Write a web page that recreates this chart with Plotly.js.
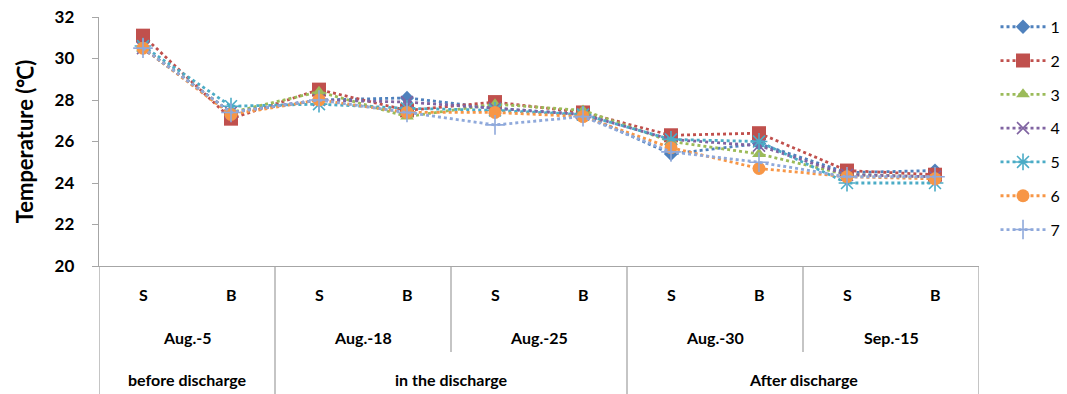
<!DOCTYPE html>
<html>
<head>
<meta charset="utf-8">
<script src="https://cdn.plot.ly/plotly-3.0.1.min.js"></script>
<style>
  html, body { margin: 0; padding: 0; background: #fff; }
  #chart { width: 1067px; height: 394px; }
</style>
</head>
<body>
<div id="chart"></div>
<script>
// Sampling layers (S = surface, B = bottom) for each survey date
const layers = ["S", "B", "S", "B", "S", "B", "S", "B", "S", "B"];
const dates = ["Aug.-5", "Aug.-18", "Aug.-25", "Aug.-30", "Sep.-15"];
const periods = ["before discharge", "in the discharge", "After discharge"];
// number of dates that belong to each period
const periodSpan = [1, 2, 2];

// Water temperature (°C) at stations 1-7
const station1 = [30.5, 27.4, 28.0, 28.1, 27.6, 27.3, 25.4, 25.9, 24.5, 24.6];
const station2 = [31.1, 27.1, 28.5, 27.5, 27.9, 27.4, 26.3, 26.4, 24.6, 24.4];
const station3 = [30.5, 27.4, 28.4, 27.2, 27.8, 27.5, 26.0, 25.4, 24.4, 24.3];
const station4 = [30.5, 27.4, 28.0, 27.9, 27.6, 27.3, 26.1, 25.8, 24.4, 24.3];
const station5 = [30.6, 27.7, 27.8, 27.6, 27.5, 27.3, 26.1, 26.0, 24.0, 24.0];
const station6 = [30.5, 27.3, 28.0, 27.4, 27.4, 27.2, 25.7, 24.7, 24.3, 24.2];
const station7 = [30.5, 27.4, 28.0, 27.4, 26.8, 27.2, 25.5, 25.0, 24.3, 24.3];

const stationNames = ["1", "2", "3", "4", "5", "6", "7"];
const stationValues = [station1, station2, station3, station4, station5, station6, station7];
const stationColors = ["#4F81BD", "#C0504D", "#9BBB59", "#8064A2", "#4BACC6", "#F79646", "#8FA9DB"];
const stationSymbols = ["diamond", "square", "triangle-up", "x-thin-open", "asterisk-open", "circle", "cross-thin-open"];
const stationSizes = [11, 14, 12, 12, 14, 13, 14];

const xIndex = layers.map((_, i) => i);

const traces = stationValues.map((vals, k) => {
  const thin = stationSymbols[k].endsWith("-open");
  return {
    type: "scatter",
    mode: "lines+markers",
    name: stationNames[k],
    legendgroup: stationNames[k],
    x: xIndex,
    y: vals,
    line: { color: stationColors[k], width: 2.8, dash: "dot" },
    marker: {
      symbol: stationSymbols[k],
      size: stationSizes[k],
      color: stationColors[k],
      line: { color: stationColors[k], width: thin ? 1.6 : 0 }
    }
  };
});

const FONT = "Lato, 'Open Sans', sans-serif";
const gridGray = "#A6A6A6";
const labelFont = { family: FONT, size: 16, color: "#000" };

// Row positions (paper units) for the three label rows below the axis
const rowLayer = -0.16, rowDate = -0.335, rowPeriod = -0.5;
const dateLineBottom = -0.345, tableBottom = -0.52;

const annotations = [];
layers.forEach((lab, i) => {
  annotations.push({ x: i, y: rowLayer, xref: "x", yref: "paper", text: "<b>" + lab + "</b>",
    showarrow: false, font: labelFont });
});
dates.forEach((d, j) => {
  annotations.push({ x: 2 * j + 0.5, y: rowDate, xref: "x", yref: "paper", text: "<b>" + d + "</b>",
    showarrow: false, font: labelFont });
});

const shapes = [];
// left border of the label table (continuation of the value axis)
shapes.push({ type: "line", xref: "x", yref: "paper", x0: -0.5, x1: -0.5, y0: 0, y1: tableBottom,
  line: { color: gridGray, width: 1.3 } });
let start = 0;
periods.forEach((p, j) => {
  const end = start + periodSpan[j];
  annotations.push({ x: (2 * start - 0.5 + 2 * end - 0.5) / 2, y: rowPeriod, xref: "x", yref: "paper",
    text: "<b>" + p + "</b>", showarrow: false, font: labelFont });
  // dividers between dates inside a period
  for (let d = start + 1; d < end; d++) {
    shapes.push({ type: "line", xref: "x", yref: "paper", x0: 2 * d - 0.5, x1: 2 * d - 0.5,
      y0: 0, y1: dateLineBottom, line: { color: gridGray, width: 1.3 } });
  }
  // divider closing the period
  shapes.push({ type: "line", xref: "x", yref: "paper", x0: 2 * end - 0.5, x1: 2 * end - 0.5,
    y0: 0, y1: tableBottom, line: { color: gridGray, width: 1.3 } });
  start = end;
});

const layout = {
  width: 1067,
  height: 394,
  margin: { l: 99, r: 88, t: 17, b: 128, autoexpand: false },
  paper_bgcolor: "#fff",
  plot_bgcolor: "#fff",
  font: { family: FONT, color: "#000" },
  showlegend: true,
  legend: {
    xref: "container", yref: "container",
    x: 0.933, xanchor: "left", y: 0.975, yanchor: "top",
    font: { family: FONT, size: 16, color: "#000" },
    itemwidth: 45,
    tracegroupgap: 10,
    maxheight: 390,
    bgcolor: "rgba(0,0,0,0)"
  },
  xaxis: {
    range: [-0.5, 9.5],
    showticklabels: false,
    ticks: "",
    showgrid: false,
    zeroline: false,
    showline: true,
    linecolor: gridGray,
    linewidth: 1.3,
    fixedrange: true
  },
  yaxis: {
    range: [20, 32],
    tickvals: [20, 22, 24, 26, 28, 30, 32],
    ticktext: ["<b>20</b>", "<b>22</b>", "<b>24</b>", "<b>26</b>", "<b>28</b>", "<b>30</b>", "<b>32</b>"],
    ticks: "outside",
    ticklen: 6,
    tickcolor: gridGray,
    ticklabelstandoff: 14,
    tickfont: { family: FONT, size: 17, color: "#000" },
    showgrid: false,
    zeroline: false,
    showline: true,
    linecolor: gridGray,
    linewidth: 1.3,
    title: { text: "<b>Temperature (℃)</b>", font: { family: FONT, size: 22, color: "#000" }, standoff: 15 },
    fixedrange: true
  },
  annotations: annotations,
  shapes: shapes
};

Plotly.newPlot("chart", traces, layout, { displayModeBar: false, staticPlot: true });
</script>
</body>
</html>
